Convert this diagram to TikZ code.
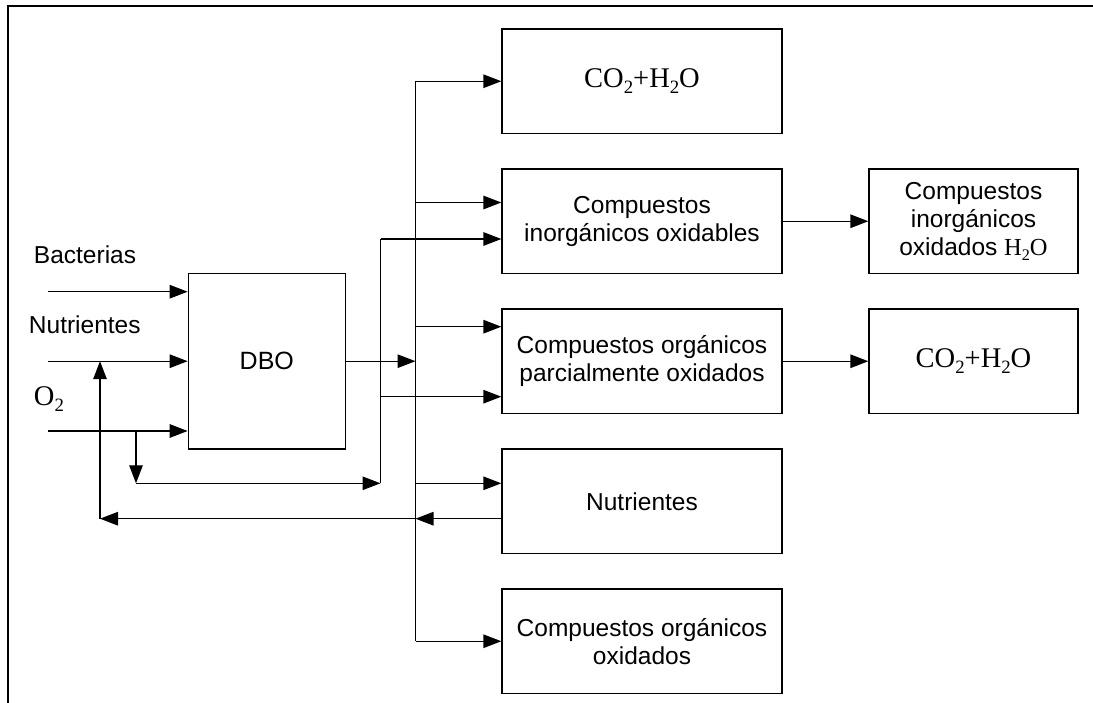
\documentclass[tikz,border=0pt]{standalone}
\usepackage{fontspec}
\setmainfont{Liberation Sans}
\newfontfamily\tnr{Liberation Serif}
\usetikzlibrary{arrows.meta}
\newcommand{\chemsub}[1]{\raisebox{-0.2em}{\scalebox{0.66}{#1}}}
\newcommand{\bigchem}[1]{{\fontsize{28.5}{30}\selectfont\tnr #1}}
\begin{document}
\begin{tikzpicture}[x=1pt,y=-1pt,
  line width=1.3pt,
  box/.style={draw, line width=1.3pt, minimum width=280pt, minimum height=104.5pt,
    inner sep=0pt, align=center, font=\fontsize{24.5}{28.3}\selectfont},
  rbox/.style={box, minimum width=209pt},
  lbl/.style={inner sep=0pt, font=\fontsize{24.5}{28.3}\selectfont},
  arr/.style={-{Triangle[length=18pt,width=13.5pt]}}]
\useasboundingbox (0,0) rectangle (1093,703);
% frame
\coordinate (fa) at (8,703);
\coordinate (fb) at (8,6);
\coordinate (fc) at (1093,6);
\draw[line width=2pt] (fa) -- (fb) -- (fc);

% boxes
\node[box, minimum width=157pt, minimum height=175.7pt, font=\fontsize{25}{28.3}\selectfont] (dbo) at (266.8,361.2) {DBO};
\node[box] (b1) at (642,81.25) {\bigchem{CO\chemsub{2}+H\chemsub{2}O}};
\node[box] (b2) at (642,221.25) {Compuestos\\inorgánicos oxidables};
\node[box] (b3) at (642,361.25) {Compuestos orgánicos\\parcialmente oxidados};
\node[box] (b4) at (642,501.25) {Nutrientes};
\node[box] (b5) at (642,641.25) {Compuestos orgánicos\\oxidados};
\node[rbox] (r1) at (973.5,221.25) {Compuestos\\inorgánicos\\oxidados {\tnr H\chemsub{2}O}};
\node[rbox] (r2) at (973.5,361.25) {\bigchem{CO\chemsub{2}+H\chemsub{2}O}};

% input labels
\node[lbl, anchor=base west] (lbac) at (33.3,263.3) {Bacterias};
\node[lbl, anchor=base west] (lnut) at (28.3,334) {Nutrientes};
\node[lbl, anchor=base west] (lox) at (33.3,405.7) {\bigchem{O\chemsub{2}}};

% inputs
\coordinate (inB) at (48,291.7);
\coordinate (inN) at (48,361.2);
\coordinate (inO) at (48,431);
\draw[arr] (inB) -- (inB -| dbo.west);
\draw[arr] (inN) -- (inN -| dbo.west);
\draw[arr] (inO) -- (inO -| dbo.west);

% bus
\coordinate (busT) at (415.5,81.25);
\coordinate (busB) at (415.5,641.25);
\coordinate (bus2) at (415.5,202.5);
\coordinate (bus3) at (415.5,326.7);
\coordinate (bus4) at (415.5,483.3);
\draw (busT) -- (busB);
\draw[arr] (busT) -- (b1.west);
\draw[arr] (bus2) -- (bus2 -| b2.west);
\draw[arr] (bus3) -- (bus3 -| b3.west);
\draw[arr] (bus4) -- (bus4 -| b4.west);
\draw[arr] (busB) -- (b5.west);
\draw[arr] (dbo.east) -- (dbo.east -| busT);

% O2 branch line
\coordinate (s1) at (380.5,239);
\coordinate (s2) at (380.5,396.7);
\coordinate (s3) at (380.5,483.3);
\coordinate (o2b) at (136,431);
\coordinate (o2c) at (136,483.3);
\draw (s3) -- (s1);
\draw[arr] (s1) -- (s1 -| b2.west);
\draw[arr] (s2) -- (s2 -| b3.west);
\draw[arr] (o2b) -- (o2c);
\draw[arr] (o2c) -- (s3);

% nutrient return
\coordinate (ret) at (502,518.7);
\coordinate (retBus) at (415.5,518.7);
\coordinate (retL) at (100,518.7);
\coordinate (retUp) at (100,361.2);
\draw[arr] (ret) -- (retBus);
\draw[arr] (retBus) -- (retL);
\draw[arr] (retL) -- (retUp);

% to right boxes
\draw[arr] (b2.east) -- (r1.west);
\draw[arr] (b3.east) -- (r2.west);
\end{tikzpicture}
\end{document}
